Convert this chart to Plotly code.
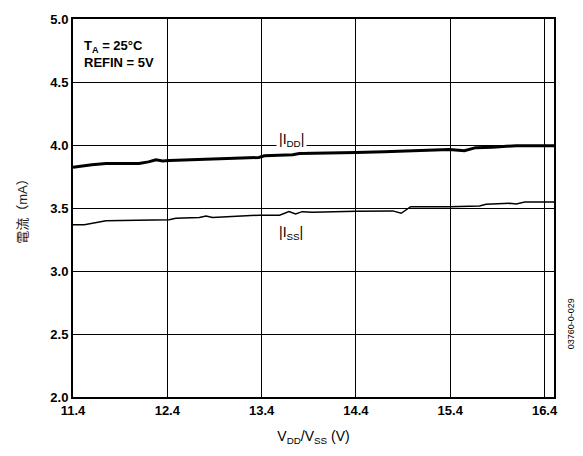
import plotly.graph_objects as go

# I_DD data (V, mA)
idd_v = [11.40, 11.45, 11.52, 11.60, 11.75, 12.10, 12.20, 12.28, 12.35, 12.42, 12.74, 13.05, 13.37, 13.43, 13.73, 13.80, 14.10, 14.40, 14.70, 14.93, 15.20, 15.39, 15.55, 15.67, 15.85, 16.10, 16.30, 16.50]
idd_i = [3.823, 3.830, 3.836, 3.844, 3.854, 3.854, 3.866, 3.882, 3.874, 3.877, 3.885, 3.892, 3.901, 3.914, 3.922, 3.932, 3.935, 3.940, 3.947, 3.953, 3.958, 3.964, 3.955, 3.979, 3.982, 3.995, 3.995, 3.995]

# I_SS data (V, mA)
iss_v = [11.40, 11.52, 11.75, 12.42, 12.49, 12.74, 12.81, 12.88, 13.37, 13.59, 13.69, 13.76, 13.83, 13.94, 14.40, 14.79, 14.88, 14.98, 15.39, 15.71, 15.78, 16.03, 16.10, 16.19, 16.50]
iss_i = [3.367, 3.367, 3.398, 3.406, 3.419, 3.424, 3.437, 3.424, 3.443, 3.443, 3.471, 3.453, 3.471, 3.466, 3.474, 3.477, 3.458, 3.510, 3.510, 3.516, 3.529, 3.537, 3.532, 3.547, 3.547]

x_ticks = [11.4, 12.4, 13.4, 14.4, 15.4, 16.4]
y_ticks = [2.0, 2.5, 3.0, 3.5, 4.0, 4.5, 5.0]

FONT = "Liberation Sans, Arial, Noto Sans CJK JP, sans-serif"

fig = go.Figure()
fig.add_trace(go.Scatter(x=idd_v, y=idd_i, mode="lines",
                         line=dict(color="black", width=3), showlegend=False))
fig.add_trace(go.Scatter(x=iss_v, y=iss_i, mode="lines",
                         line=dict(color="black", width=1.5), showlegend=False))

fig.update_layout(
    width=583, height=456,
    margin=dict(l=73, r=29, t=15, b=59),
    paper_bgcolor="white", plot_bgcolor="white",
    font=dict(family=FONT, size=13, color="black"),
    xaxis=dict(range=[11.4, 16.5], tickvals=x_ticks, ticktext=[f"{v:.1f}" for v in x_ticks],
               showgrid=True, gridcolor="black", gridwidth=1,
               showline=True, linecolor="black", linewidth=2, mirror=True,
               ticks="", zeroline=False,
               tickfont=dict(family=FONT, size=13, weight="bold"),
               title=dict(text="V<sub>DD</sub>/V<sub>SS</sub> (V)", font=dict(family=FONT, size=14), standoff=15)),
    yaxis=dict(range=[2.0, 5.0], tickvals=y_ticks, ticktext=[f"{v:.1f}" for v in y_ticks],
               showgrid=True, gridcolor="black", gridwidth=1,
               showline=True, linecolor="black", linewidth=2, mirror=True,
               ticks="", zeroline=False,
               tickfont=dict(family=FONT, size=13, weight="bold"),
               title=dict(text="電流（mA）", font=dict(family=FONT, size=13, color="#222"), standoff=20)),
)

fig.add_annotation(x=0.018, y=0.955, xref="paper", yref="paper", xanchor="left", yanchor="top",
                   text="T<sub>A</sub> = 25°C<br>REFIN = 5V", showarrow=False, align="left",
                   font=dict(family=FONT, size=13, weight="bold"))
fig.add_annotation(x=13.72, y=4.04, text="|I<sub>DD</sub>|", showarrow=False,
                   bgcolor="white", font=dict(family=FONT, size=14), borderpad=2)
fig.add_annotation(x=13.71, y=3.30, text="|I<sub>SS</sub>|", showarrow=False,
                   font=dict(family=FONT, size=14))
fig.add_annotation(x=1.05, y=0.12, xref="paper", yref="paper", text="03760-0-029",
                   textangle=-90, showarrow=False, font=dict(family=FONT, size=9))

fig.write_html("out.html")
